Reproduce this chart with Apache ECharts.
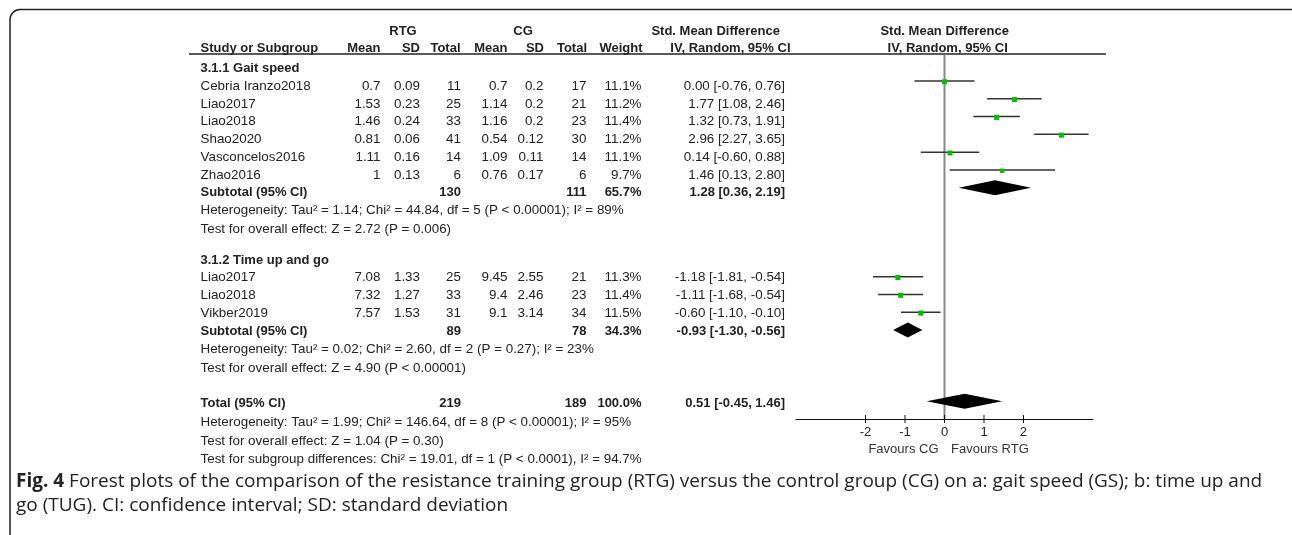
<!DOCTYPE html>
<html>
<head>
<meta charset="utf-8">
<script src="https://cdn.jsdelivr.net/npm/echarts@6/dist/echarts.min.js"></script>
<style>
html,body{margin:0;padding:0;background:#fff;}
#chart{width:1292px;height:535px;}
</style>
</head>
<body>
<div id="chart"></div>
<script>
// ---------------- DATA ----------------
const studies = ['Cebria Iranzo2018','Liao2017','Liao2018','Shao2020','Vasconcelos2016','Zhao2016','Liao2017','Liao2018','Vikber2019'];
const studyGroup = [0,0,0,0,0,0,1,1,1];
const rtgMean = ['0.7','1.53','1.46','0.81','1.11','1','7.08','7.32','7.57'];
const rtgSD   = ['0.09','0.23','0.24','0.06','0.16','0.13','1.33','1.27','1.53'];
const rtgN    = [11,25,33,41,14,6,25,33,31];
const cgMean  = ['0.7','1.14','1.16','0.54','1.09','0.76','9.45','9.4','9.1'];
const cgSD    = ['0.2','0.2','0.2','0.12','0.11','0.17','2.55','2.46','3.14'];
const cgN     = [17,21,23,30,14,6,21,23,34];
const weight  = [11.1,11.2,11.4,11.2,11.1,9.7,11.3,11.4,11.5];
const smd     = [0.00,1.77,1.32,2.96,0.14,1.46,-1.18,-1.11,-0.60];
const ciLow   = [-0.76,1.08,0.73,2.27,-0.60,0.13,-1.81,-1.68,-1.10];
const ciHigh  = [0.76,2.46,1.91,3.65,0.88,2.80,-0.54,-0.54,-0.10];

const groupNames  = ['3.1.1 Gait speed','3.1.2 Time up and go'];
const subRtgN     = [130,89];
const subCgN      = [111,78];
const subWeight   = [65.7,34.3];
const subSmd      = [1.28,-0.93];
const subLow      = [0.36,-1.30];
const subHigh     = [2.19,-0.56];
const subHet      = ['Heterogeneity: Tau² = 1.14; Chi² = 44.84, df = 5 (P < 0.00001); I² = 89%',
                     'Heterogeneity: Tau² = 0.02; Chi² = 2.60, df = 2 (P = 0.27); I² = 23%'];
const subTest     = ['Test for overall effect: Z = 2.72 (P = 0.006)',
                     'Test for overall effect: Z = 4.90 (P < 0.00001)'];

const totalRtgN = 219, totalCgN = 189, totalWeight = 100.0;
const totalSmd = 0.51, totalLow = -0.45, totalHigh = 1.46;
const totalNotes = ['Heterogeneity: Tau² = 1.99; Chi² = 146.64, df = 8 (P < 0.00001); I² = 95%',
                    'Test for overall effect: Z = 1.04 (P = 0.30)',
                    'Test for subgroup differences: Chi² = 19.01, df = 1 (P < 0.0001), I² = 94.7%'];

const tickValues = [-2,-1,0,1,2];
const favourLabels = ['Favours CG','Favours RTG'];
const captionBold = 'Fig. 4';
const captionLines = [' Forest plots of the comparison of the resistance training group (RTG) versus the control group (CG) on a: gait speed (GS); b: time up and',
                      'go (TUG). CI: confidence interval; SD: standard deviation'];

// ---------------- LAYOUT ----------------
const FONT = 'Liberation Sans, Arial, sans-serif';
const TXT = '#222';
const col = {study:200.5, rtgMean:380.5, rtgSD:420, rtgN:461, cgMean:507.5, cgSD:543.5, cgN:586.5, weight:641.5, ci:785};
const textRowsY = {
  hdr1:31.7, hdr2:48.8,
  g:[{head:68, studies:[86.7,104.3,121.8,139.3,157,175], sub:192.2, het:210.7, test:229.5},
     {head:260, studies:[277.7,295.2,313], sub:331, het:349.5, test:368}],
  total:403.5, notes:[422,441,459.5]
};
const forestStudyRows = [0,1,2,3,4,5,11,12,13];
const forestSubRows = [6,14];
const forestTotalRow = 18;

function fmt2(v){ return (v<0?'-':'') + Math.abs(v).toFixed(2); }
function ciStr(e,l,h){ return fmt2(e)+' ['+fmt2(l)+', '+fmt2(h)+']'; }

const graphics = [];
function txt(s, x, y, align, bold, size, color){
  graphics.push({type:'text', silent:true, style:{text:s, x:x, y:y, align:align||'left', verticalAlign:'middle',
    font:(bold?'bold ':'')+(size||(bold?13:13.4))+'px '+FONT, fill:color||TXT}});
}
// frame
graphics.push({type:'rect', silent:true, shape:{x:10, y:9.5, width:1300, height:620, r:10},
  style:{fill:'none', stroke:'#222', lineWidth:1.5}});
// header line
graphics.push({type:'line', silent:true, shape:{x1:189, y1:54, x2:1106, y2:54}, style:{stroke:'#222', lineWidth:1.5}});
// headers
txt('RTG', 403, textRowsY.hdr1, 'center', true);
txt('CG', 523, textRowsY.hdr1, 'center', true);
txt('Std. Mean Difference', 780, textRowsY.hdr1, 'right', true);
txt('Std. Mean Difference', 944.7, textRowsY.hdr1, 'center', true);
txt('Study or Subgroup', col.study, textRowsY.hdr2, 'left', true);
txt('Mean', col.rtgMean, textRowsY.hdr2, 'right', true);
txt('SD', col.rtgSD, textRowsY.hdr2, 'right', true);
txt('Total', col.rtgN-0.5, textRowsY.hdr2, 'right', true);
txt('Mean', col.cgMean, textRowsY.hdr2, 'right', true);
txt('SD', col.cgSD+0.5, textRowsY.hdr2, 'right', true);
txt('Total', col.cgN+0.5, textRowsY.hdr2, 'right', true);
txt('Weight', col.weight+1, textRowsY.hdr2, 'right', true);
txt('IV, Random, 95% CI', col.ci+5.5, textRowsY.hdr2, 'right', true);
txt('IV, Random, 95% CI', 947.7, textRowsY.hdr2, 'center', true);

// body
[0,1].forEach(function(g){
  const L = textRowsY.g[g];
  txt(groupNames[g], col.study, L.head, 'left', true);
  let k = 0;
  studies.forEach(function(name, i){
    if (studyGroup[i] !== g) return;
    const y = L.studies[k++];
    txt(name, col.study, y);
    txt(rtgMean[i], col.rtgMean, y, 'right');
    txt(rtgSD[i], col.rtgSD, y, 'right');
    txt(String(rtgN[i]), col.rtgN, y, 'right');
    txt(cgMean[i], col.cgMean, y, 'right');
    txt(cgSD[i], col.cgSD, y, 'right');
    txt(String(cgN[i]), col.cgN, y, 'right');
    txt(weight[i].toFixed(1)+'%', col.weight, y, 'right');
    txt(ciStr(smd[i], ciLow[i], ciHigh[i]), col.ci, y, 'right');
  });
  txt('Subtotal (95% CI)', col.study, L.sub, 'left', true);
  txt(String(subRtgN[g]), col.rtgN, L.sub, 'right', true);
  txt(String(subCgN[g]), col.cgN, L.sub, 'right', true);
  txt(subWeight[g].toFixed(1)+'%', col.weight, L.sub, 'right', true);
  txt(ciStr(subSmd[g], subLow[g], subHigh[g]), col.ci, L.sub, 'right', true);
  txt(subHet[g], col.study, L.het);
  txt(subTest[g], col.study, L.test);
});
txt('Total (95% CI)', col.study, textRowsY.total, 'left', true);
txt(String(totalRtgN), col.rtgN, textRowsY.total, 'right', true);
txt(String(totalCgN), col.cgN, textRowsY.total, 'right', true);
txt(totalWeight.toFixed(1)+'%', col.weight, textRowsY.total, 'right', true);
txt(ciStr(totalSmd, totalLow, totalHigh), col.ci, textRowsY.total, 'right', true);
totalNotes.forEach(function(s, i){ txt(s, col.study, textRowsY.notes[i]); });

// favours labels
txt(favourLabels[0], 938.5, 449, 'right', false, 13, '#333');
txt(favourLabels[1], 951, 449, 'left', false, 13, '#333');

// caption
graphics.push({type:'text', silent:true, style:{
  text:'{b|'+captionBold+'}'+captionLines[0], x:16, y:482, verticalAlign:'middle',
  font:'19px Open Sans, sans-serif', fill:'#222',
  rich:{b:{font:'bold 19px Open Sans, sans-serif', fill:'#222'}}}});
graphics.push({type:'text', silent:true, style:{
  text:captionLines[1], x:16, y:506, verticalAlign:'middle', font:'19px Open Sans, sans-serif', fill:'#222'}});

// ---------------- SERIES DATA ----------------
const studyData = studies.map(function(s,i){ return [ciLow[i], ciHigh[i], smd[i], forestStudyRows[i], weight[i]]; });
const diamondData = [
  [subLow[0], subHigh[0], subSmd[0], forestSubRows[0]],
  [subLow[1], subHigh[1], subSmd[1], forestSubRows[1]],
  [totalLow, totalHigh, totalSmd, forestTotalRow]
];

const chart = echarts.init(document.getElementById('chart'), null, {renderer:'canvas'});
chart.setOption({
  animation:false,
  backgroundColor:'#fff',
  graphic:graphics,
  grid:{left:796, width:297, top:54.3, height:364.7, containLabel:false},
  xAxis:{type:'value', min:-3.76, max:3.76,
    axisLine:{show:true, onZero:false, lineStyle:{color:'#111', width:1}},
    axisTick:{show:false},
    splitLine:{show:false},
    axisLabel:{customValues:tickValues, color:'#222', fontFamily:FONT, fontSize:13, margin:7}
  },
  yAxis:{type:'value', min:-1.5, max:19, inverse:true, show:false, splitLine:{show:false}},
  series:[
    {type:'line', data:[[0,-1.5],[0,19]], symbol:'none', lineStyle:{color:'#888', width:2}, silent:true, z:1},
    {type:'custom', z:3, silent:true, clip:false,
      renderItem:function(params, api){
        const lo = api.coord([api.value(0), api.value(3)]);
        const hi = api.coord([api.value(1), api.value(3)]);
        const c  = api.coord([api.value(2), api.value(3)]);
        const s = api.value(4)*0.45;
        return {type:'group', children:[
          {type:'line', shape:{x1:lo[0], y1:lo[1], x2:hi[0], y2:hi[1]}, style:{stroke:'#333', lineWidth:1.5}},
          {type:'rect', shape:{x:c[0]-s/2, y:c[1]-s/2+0.8, width:s, height:s}, style:{fill:'#00c000'}}
        ]};
      },
      encode:{x:[0,1,2], y:3},
      data:studyData
    },
    {type:'custom', z:3, silent:true, clip:false,
      renderItem:function(params, api){
        const lo = api.coord([api.value(0), api.value(3)]);
        const hi = api.coord([api.value(1), api.value(3)]);
        const c  = api.coord([api.value(2), api.value(3)]);
        const h = 7.5;
        return {type:'polygon', shape:{points:[[lo[0],lo[1]],[c[0],c[1]-h],[hi[0],hi[1]],[c[0],c[1]+h]]}, style:{fill:'#000'}};
      },
      encode:{x:[0,1,2], y:3},
      data:diamondData
    },
    {type:'custom', z:4, silent:true, clip:false,
      renderItem:function(params, api){
        const p = api.coord([api.value(0), 19]);
        return {type:'line', shape:{x1:p[0], y1:p[1]-4, x2:p[0], y2:p[1]+4}, style:{stroke:'#111', lineWidth:1}};
      },
      encode:{x:0},
      data:tickValues.map(function(v){ return [v]; })
    }
  ]
});
</script>
</body>
</html>
